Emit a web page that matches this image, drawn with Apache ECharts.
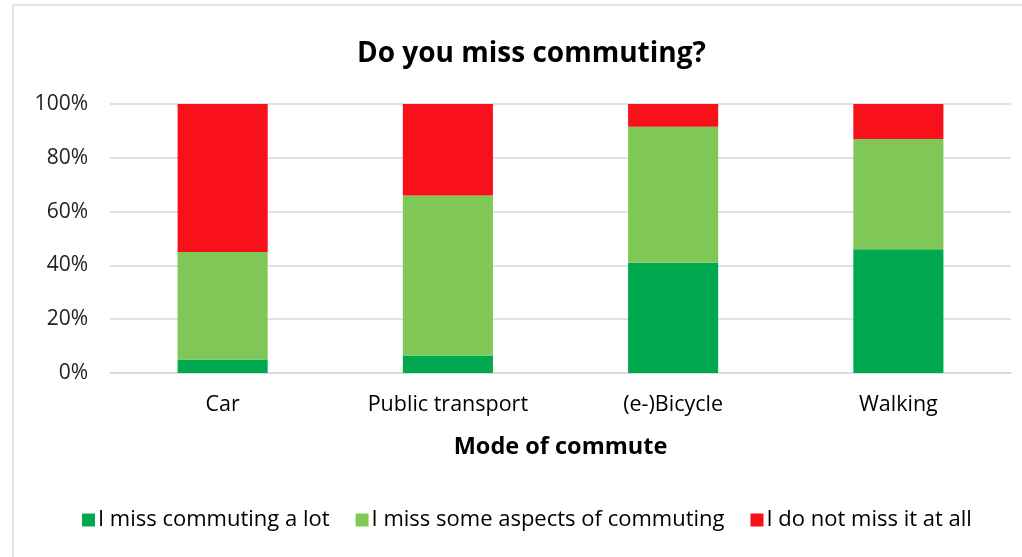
<!DOCTYPE html>
<html>
<head>
<meta charset="utf-8">
<script src="https://cdn.jsdelivr.net/npm/echarts@6/dist/echarts.min.js"></script>
<style>
html,body{margin:0;padding:0;background:#fff;}
#chart{width:1022px;height:557px;}
</style>
</head>
<body>
<div id="chart"></div>
<script>
const categories = ["Car", "Public transport", "(e-)Bicycle", "Walking"];
const seriesNames = ["I miss commuting a lot", "I miss some aspects of commuting", "I do not miss it at all"];
const missALot = [5, 6.5, 41, 46];
const missSome = [40, 59.5, 50.5, 41];
const notAtAll = [55, 34, 8.5, 13];
const yTicks = [0, 20, 40, 60, 80, 100];

const colors = ["#00A94F", "#7FC857", "#F8101A"];
const font = "'Open Sans', sans-serif";

const chart = echarts.init(document.getElementById('chart'), null, {renderer: 'canvas'});
const dataSets = [missALot, missSome, notAtAll];
chart.setOption({
  animation: false,
  backgroundColor: '#fff',
  title: {
    text: 'Do you miss commuting?',
    left: 352,
    top: 35,
    textStyle: {fontFamily: font, fontSize: 28, fontWeight: 'bold', color: '#000'}
  },
  legend: {
    bottom: 21,
    left: 77,
    itemWidth: 13,
    itemHeight: 13,
    itemGap: 26,
    icon: 'rect',
    textStyle: {fontFamily: font, fontSize: 22, color: '#000', padding: [0,0,0,-2]},
    data: seriesNames
  },
  grid: {left: 110, right: 11, top: 104, bottom: 184, containLabel: false},
  xAxis: {
    type: 'category',
    data: categories,
    name: 'Mode of commute',
    nameLocation: 'middle',
    nameGap: 62,
    nameTextStyle: {fontFamily: font, fontSize: 23.5, fontWeight: 'bold', color: '#000'},
    axisLine: {show: true, lineStyle: {color: '#D9D9D9', width: 1.5}},
    axisTick: {show: false},
    axisLabel: {fontFamily: font, fontSize: 21.5, color: '#000', margin: 21}
  },
  yAxis: {
    type: 'value',
    min: yTicks[0],
    max: yTicks[yTicks.length - 1],
    interval: yTicks[1] - yTicks[0],
    axisLine: {show: false},
    axisTick: {show: false},
    splitLine: {lineStyle: {color: '#D9D9D9', width: 1.5}},
    axisLabel: {fontFamily: font, fontSize: 21, color: '#222', margin: 22, formatter: '{value}%'}
  },
  graphic: [{
    type: 'rect',
    shape: {x: 13, y: 5, width: 1030, height: 600},
    style: {fill: 'none', stroke: '#DCDCDC', lineWidth: 1.5},
    silent: true
  }],
  series: dataSets.map((d, i) => ({
    name: seriesNames[i],
    type: 'bar',
    stack: 'total',
    barWidth: '40%',
    itemStyle: {color: colors[i]},
    data: d
  }))
});
</script>
</body>
</html>
